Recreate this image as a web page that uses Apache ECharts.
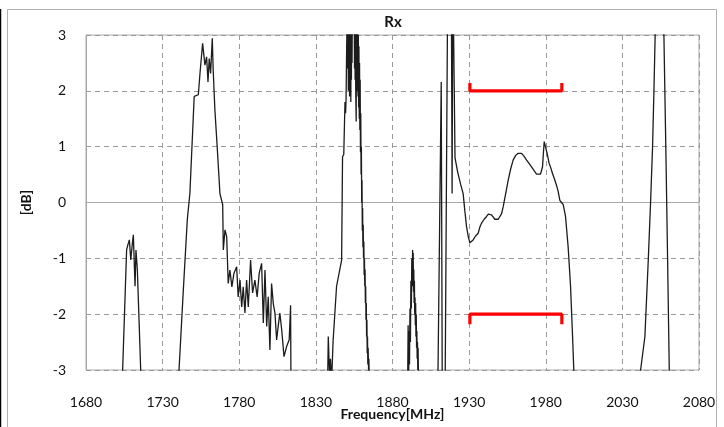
<!DOCTYPE html>
<html>
<head>
<meta charset="utf-8">
<script src="https://cdn.jsdelivr.net/npm/echarts@6/dist/echarts.min.js"></script>
<style>
html,body{margin:0;padding:0;background:#fff;}
#c{width:724px;height:427px;}
</style>
</head>
<body>
<div id="c"></div>
<script>
// ---- data (Frequency MHz, dB) ----
const xTicks = [1680, 1730, 1780, 1830, 1880, 1930, 1980, 2030, 2080];
const yTicks = [-3, -2, -1, 0, 1, 2, 3];

const seg1 = [[1703.6,-3.5],[1703.9,-3],[1706.5,-0.85],[1707.4,-0.75],[1708.3,-0.67],[1709.2,-1.03],[1710.2,-0.75],[1710.9,-0.58],[1712.0,-1.5],[1712.6,-0.85],[1713.5,-1.2],[1715.7,-3],[1716,-3.5]];

const seg2 = [[1740.4,-3.5],[1740.7,-3],[1743.5,-1.57],[1746.1,-0.31],[1747.8,0.17],[1750.6,1.9],[1751.8,1.88],[1753.3,1.93],[1754.4,2.32],[1756.1,2.85],[1757.6,2.46],[1758.7,2.61],[1759.6,2.16],[1760.4,2.58],[1761.3,2.31],[1762.4,2.94],[1763.0,2.37],[1764.1,1.66],[1765.6,1.0],[1767.4,0.16],[1769.2,-0.04],[1769.6,-0.85],[1770.7,-0.49],[1771.8,-0.61],[1772.8,-1.45],[1773.9,-1.21],[1775.2,-1.51],[1776.5,-1.27],[1778.3,-1.15],[1779.3,-1.69],[1780.5,-1.39],[1781.6,-1.87],[1782.6,-1.51],[1783.7,-1.98],[1784.8,-1.39],[1785.9,-1.87],[1787.4,-1.03],[1788.7,-1.62],[1790.2,-1.39],[1791.7,-1.69],[1793.0,-1.27],[1794.6,-1.09],[1795.7,-2.16],[1796.8,-1.21],[1797.9,-2.22],[1798.9,-1.69],[1800.0,-2.64],[1801.1,-1.45],[1802.2,-1.81],[1803.3,-1.98],[1804.4,-2.46],[1805.4,-2.22],[1806.5,-1.98],[1807.7,-2.28],[1809.2,-2.76],[1810.9,-2.58],[1812.6,-2.46],[1813.5,-1.84],[1813.7,-3],[1813.8,-3.5]];

const seg3 = [[1837.5,-3.5],[1838.1,-2.4],[1838.9,-3.1],[1839.5,-2.8],[1840.3,-3.2],[1841.2,-2.5],[1843.5,-1.5],[1846.8,-1.03],[1847.4,0.82],[1848.2,0.86],[1849.0,1.8],[1849.4,1.6],[1849.7,1.85],[1850.1,2.8],[1850.5,3.5],[1850.8,2.4],[1851.0,3.2],[1851.2,2.0],[1851.4,3.5],[1851.6,2.2],[1851.8,3.3],[1852.0,1.9],[1852.2,3.4],[1852.4,2.1],[1852.6,3.5],[1852.8,1.8],[1853.0,3.5],[1853.2,2.2],[1853.4,3.6],[1853.6,2.5],[1853.8,3.6],[1854.6,3.6],[1855.0,3.5],[1855.2,2.4],[1855.4,3.5],[1855.6,2.2],[1855.8,3.4],[1856.0,2.0],[1856.3,1.45],[1856.5,3.4],[1856.7,2.2],[1856.9,3.3],[1857.1,2.0],[1857.3,3.2],[1857.5,1.9],[1857.7,3.0],[1857.9,1.7],[1858.1,2.8],[1858.3,1.5],[1858.5,2.5],[1858.7,1.3],[1858.9,2.2],[1859.1,0.9],[1859.3,1.6],[1859.5,0.5],[1859.7,1.0],[1859.9,0.0],[1860.1,0.4],[1860.3,-0.5],[1860.5,-0.1],[1860.7,-0.8],[1860.9,-0.4],[1861.1,-1.0],[1861.3,-0.7],[1861.5,-1.3],[1861.7,-1.0],[1861.9,-1.5],[1862.1,-1.2],[1862.3,-1.8],[1862.5,-1.5],[1862.7,-2.1],[1862.9,-1.8],[1863.1,-2.4],[1863.3,-2.1],[1863.5,-2.7],[1863.7,-2.4],[1863.9,-2.9],[1864.1,-2.6],[1864.4,-3.0],[1864.6,-2.8],[1865.0,-3.5]];

const seg4 = [[1889.8,-3.5],[1890.2,-2.2],[1890.5,-3.2],[1890.8,-2.3],[1891.1,-2.9],[1891.4,-1.9],[1891.7,-2.5],[1892.0,-1.4],[1892.3,-1.9],[1892.6,-1.0],[1892.9,-1.5],[1893.1,-0.85],[1893.3,-1.3],[1893.5,-0.9],[1893.7,-1.6],[1893.9,-1.2],[1894.1,-1.8],[1894.3,-1.4],[1894.5,-2.0],[1894.7,-1.7],[1894.9,-2.2],[1895.1,-1.8],[1895.3,-2.4],[1895.5,-2.0],[1895.7,-2.6],[1895.9,-2.3],[1896.1,-2.8],[1896.3,-2.5],[1896.5,-3.0],[1896.7,-2.6],[1897.1,-3.5]];

const seg5 = [[1909.5,-3.5],[1911.8,2.16],[1912.5,-3.5],[1914.3,-3.5],[1916.0,3.8],[1918.4,3.8],[1918.9,0.16],[1919.3,3.8],[1919.8,3.2],[1920.8,0.8],[1922.5,0.55],[1924.5,0.32],[1926.1,0.16],[1927.2,-0.15],[1928.3,-0.43],[1929.5,-0.62],[1930.5,-0.72],[1931.5,-0.7],[1932.6,-0.67],[1934.2,-0.6],[1935.9,-0.55],[1937.0,-0.44],[1938.1,-0.37],[1939.8,-0.3],[1941.4,-0.25],[1942.5,-0.21],[1943.5,-0.2],[1944.6,-0.22],[1945.7,-0.25],[1946.8,-0.3],[1947.9,-0.31],[1949.0,-0.3],[1950.1,-0.28],[1951.2,-0.2],[1952.2,-0.08],[1953.8,0.15],[1955.5,0.4],[1957.1,0.6],[1958.7,0.76],[1960.3,0.84],[1962.0,0.88],[1963.1,0.9],[1964.2,0.88],[1965.8,0.83],[1967.5,0.76],[1969.1,0.7],[1970.7,0.64],[1972.4,0.57],[1974.0,0.51],[1975.3,0.5],[1976.6,0.51],[1977.9,0.64],[1978.5,0.9],[1979.0,1.09],[1980.1,1.12],[1980.9,0.88],[1982.2,0.7],[1983.3,0.62],[1984.4,0.52],[1985.7,0.42],[1987.0,0.31],[1988.1,0.2],[1989.2,0.04],[1990.3,0.0],[1991.4,-0.04],[1992.9,-0.25],[1994.6,-0.79],[1996.2,-1.51],[1997.5,-2.4],[1998.3,-3],[1998.5,-3.5]];

const seg6 = [[2041.6,-3.5],[2041.9,-3],[2044.7,-2.4],[2046.9,-1.03],[2048.4,0],[2049.7,1.0],[2050.6,2.0],[2051.4,3.0],[2052.5,4.5],[2054.2,5],[2055.8,4.5],[2057.1,3.0],[2058.4,0.9],[2059.5,-1.0],[2060.6,-3],[2060.8,-3.5]];

const specUpper = [[1930.5,2.14],[1930.5,2],[1990.5,2],[1990.5,2.14]];
const specLower = [[1930.5,-2.18],[1930.5,-2],[1990.5,-2],[1990.5,-2.18]];

const segments = [seg1, seg2, seg3, seg4, seg5, seg6];

const chart = echarts.init(document.getElementById('c'), null, {renderer: 'canvas'});
const FONT = 'Lato, "Open Sans", sans-serif';

const series = segments.map(s => ({
  type: 'line', data: s, showSymbol: false, symbol: 'none', clip: true,
  lineStyle: {color: '#1c1c1c', width: 1.3}, animation: false, z: 3
}));
series.push({type:'line', data: specUpper, showSymbol:false, symbol:'none', clip:false,
  lineStyle:{color:'#ff0000', width:3.2}, animation:false, z:4});
series.push({type:'line', data: specLower, showSymbol:false, symbol:'none', clip:false,
  lineStyle:{color:'#ff0000', width:3.2}, animation:false, z:4});

chart.setOption({
  backgroundColor: '#ffffff',
  animation: false,
  title: {
    text: 'Rx', left: 388, top: 10, textAlign: 'center',
    textStyle: {fontFamily: FONT, fontSize: 15, fontWeight: 'bold', color: '#111'}
  },
  grid: {left: 86, right: 25, top: 35, bottom: 57, containLabel: false, outerBoundsMode: 'none',
         show: true, borderColor: '#a8a8a8', borderWidth: 1, backgroundColor: '#fff'},
  xAxis: {
    type: 'value', min: xTicks[0], max: xTicks[xTicks.length-1], interval: 50,
    name: 'Frequency[MHz]', nameLocation: 'middle', nameGap: 37, nameMoveOverlap: false,
    nameTextStyle: {fontFamily: FONT, fontSize: 14, fontWeight: 'bold', color: '#111'},
    axisLine: {show: true, lineStyle: {color: '#a8a8a8', width: 1}},
    axisTick: {show: false},
    axisLabel: {fontFamily: FONT, fontSize: 14, color: '#111', margin: 25, formatter: v => String(v)},
    splitLine: {show: true, lineStyle: {color: '#9a9a9a', type: [5, 4], width: 1}}
  },
  yAxis: {
    type: 'value', min: yTicks[0], max: yTicks[yTicks.length-1], interval: 1,
    name: '[dB]', nameLocation: 'middle', nameGap: 53, nameRotate: 90, nameMoveOverlap: false,
    nameTextStyle: {fontFamily: FONT, fontSize: 14, fontWeight: 'bold', color: '#111'},
    axisLine: {show: true, lineStyle: {color: '#a8a8a8', width: 1}},
    axisTick: {show: false},
    axisLabel: {fontFamily: FONT, fontSize: 14, color: '#111', margin: 20, formatter: v => String(v)},
    splitLine: {show: true, lineStyle: {color: '#9a9a9a', type: [5, 4], width: 1}}
  },
  graphic: [
    {type: 'rect', shape: {x: 7.5, y: 9.5, width: 709, height: 440}, style: {fill: 'none', stroke: '#b0b0b0', lineWidth: 1}, silent: true, z: -1},
    {type: 'line', shape: {x1: 0.5, y1: 9, x2: 0.5, y2: 427}, style: {stroke: '#000', lineWidth: 1.5}, silent: true}
  ],
  series: series
});
</script>
</body>
</html>
